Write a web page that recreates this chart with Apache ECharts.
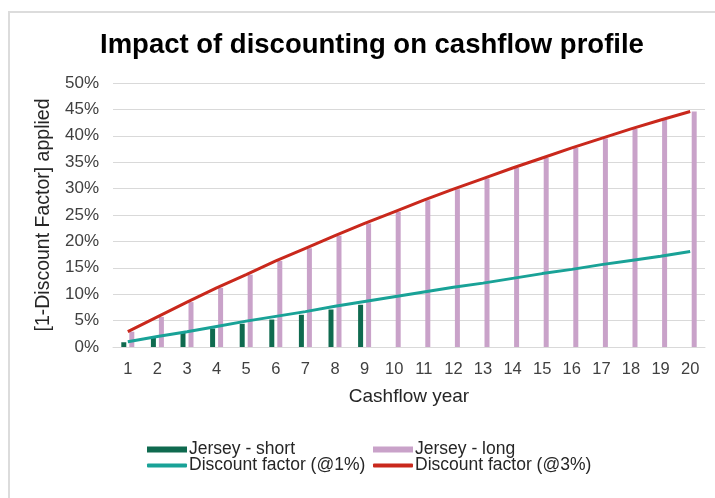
<!DOCTYPE html>
<html>
<head>
<meta charset="utf-8">
<style>
  html, body { margin: 0; padding: 0; background: #ffffff; }
  #chart { width: 715px; height: 498px; }
</style>
<script src="https://cdn.jsdelivr.net/npm/echarts@6/dist/echarts.min.js"></script>
</head>
<body>
<div id="chart"></div>
<script>
// Cashflow years on the category axis
const years = ['1','2','3','4','5','6','7','8','9','10','11','12','13','14','15','16','17','18','19','20'];

// [1 - discount factor] applied, in percent
const jerseyShort = [0.9, 1.8, 2.7, 3.5, 4.4, 5.2, 6.1, 7.1, 8.0, null, null, null, null, null, null, null, null, null, null, null];
const jerseyLong = [2.9, 5.7, 8.5, 11.2, 13.7, 16.3, 18.7, 21.1, 23.4, 25.6, 27.8, 29.9, 31.9, 33.9, 35.8, 37.7, 39.5, 41.3, 43.0, 44.6];
const discount1 = [1.0, 2.0, 2.9, 3.9, 4.9, 5.8, 6.7, 7.7, 8.6, 9.5, 10.4, 11.3, 12.1, 13.0, 13.9, 14.7, 15.6, 16.4, 17.2, 18.1];
const discount3 = [2.9, 5.7, 8.5, 11.2, 13.7, 16.3, 18.7, 21.1, 23.4, 25.6, 27.8, 29.9, 31.9, 33.9, 35.8, 37.7, 39.5, 41.3, 43.0, 44.6];

// Value axis ticks
const yTicks = { min: 0, max: 50, step: 5 };

const FONT = '"Liberation Sans", Arial, sans-serif';
const C_SHORT = '#0f6a4f';
const C_LONG = '#c9a2c9';
const C_D1 = '#19a297';
const C_D3 = '#c9281c';

const chart = echarts.init(document.getElementById('chart'), null, { renderer: 'canvas' });

function legendItem(name, left, top, icon, h) {
  return {
    data: [{ name: name, icon: icon }],
    left: left, top: top,
    itemWidth: 40, itemHeight: h, itemGap: 0,
    padding: 0,
    textStyle: { fontFamily: FONT, fontSize: 17.5, color: '#262626', padding: [0, 0, 0, -3] },
    selectedMode: false
  };
}

chart.setOption({
  animation: false,
  backgroundColor: '#ffffff',
  textStyle: { fontFamily: FONT },
  graphic: [{
    type: 'rect',
    shape: { x: 9, y: 12, width: 720, height: 500 },
    style: { fill: 'none', stroke: '#dcdcdc', lineWidth: 2 },
    silent: true
  }],
  title: {
    text: 'Impact of discounting on cashflow profile',
    left: 95, top: 26,
    textStyle: { fontFamily: FONT, fontSize: 27.5, fontWeight: 'bold', color: '#000000' }
  },
  legend: [
    legendItem('Jersey - short', 147, 440.5, 'rect', 6),
    legendItem('Jersey - long', 373, 440.5, 'rect', 6),
    legendItem('Discount factor (@1%)', 147, 456.5, 'roundRect', 4),
    legendItem('Discount factor (@3%)', 373, 456.5, 'roundRect', 4)
  ],
  grid: { left: 113, right: 10, top: 83, bottom: 151, containLabel: false },
  xAxis: {
    type: 'category',
    data: years,
    boundaryGap: true,
    name: 'Cashflow year',
    nameLocation: 'middle',
    nameGap: 40,
    nameTextStyle: { fontFamily: FONT, fontSize: 19, color: '#262626' },
    axisLine: { show: true, lineStyle: { color: '#d9d9d9', width: 1 } },
    axisTick: { show: false },
    axisLabel: { fontFamily: FONT, fontSize: 16.5, color: '#404040', margin: 14, interval: 0 }
  },
  yAxis: {
    type: 'value',
    min: yTicks.min, max: yTicks.max, interval: yTicks.step,
    name: '[1-Discount Factor] applied',
    nameLocation: 'middle',
    nameGap: 57,
    nameRotate: 90,
    nameTextStyle: { fontFamily: FONT, fontSize: 19.5, color: '#262626' },
    axisLine: { show: false },
    axisTick: { show: false },
    splitLine: { lineStyle: { color: '#d9d9d9', width: 1 } },
    axisLabel: { fontFamily: FONT, fontSize: 17, color: '#404040', margin: 14, formatter: '{value}%' }
  },
  series: [
    {
      name: 'Jersey - short', type: 'bar', data: jerseyShort,
      barWidth: 5, barGap: '60%',
      itemStyle: { color: C_SHORT }, z: 2
    },
    {
      name: 'Jersey - long', type: 'bar', data: jerseyLong,
      barWidth: 5, barGap: '60%',
      itemStyle: { color: C_LONG }, z: 2
    },
    {
      name: 'Discount factor (@1%)', type: 'line', data: discount1,
      symbol: 'none', lineStyle: { color: C_D1, width: 3 },
      itemStyle: { color: C_D1 }, z: 3
    },
    {
      name: 'Discount factor (@3%)', type: 'line', data: discount3,
      symbol: 'none', lineStyle: { color: C_D3, width: 3 },
      itemStyle: { color: C_D3 }, z: 4
    }
  ]
});
</script>
</body>
</html>
